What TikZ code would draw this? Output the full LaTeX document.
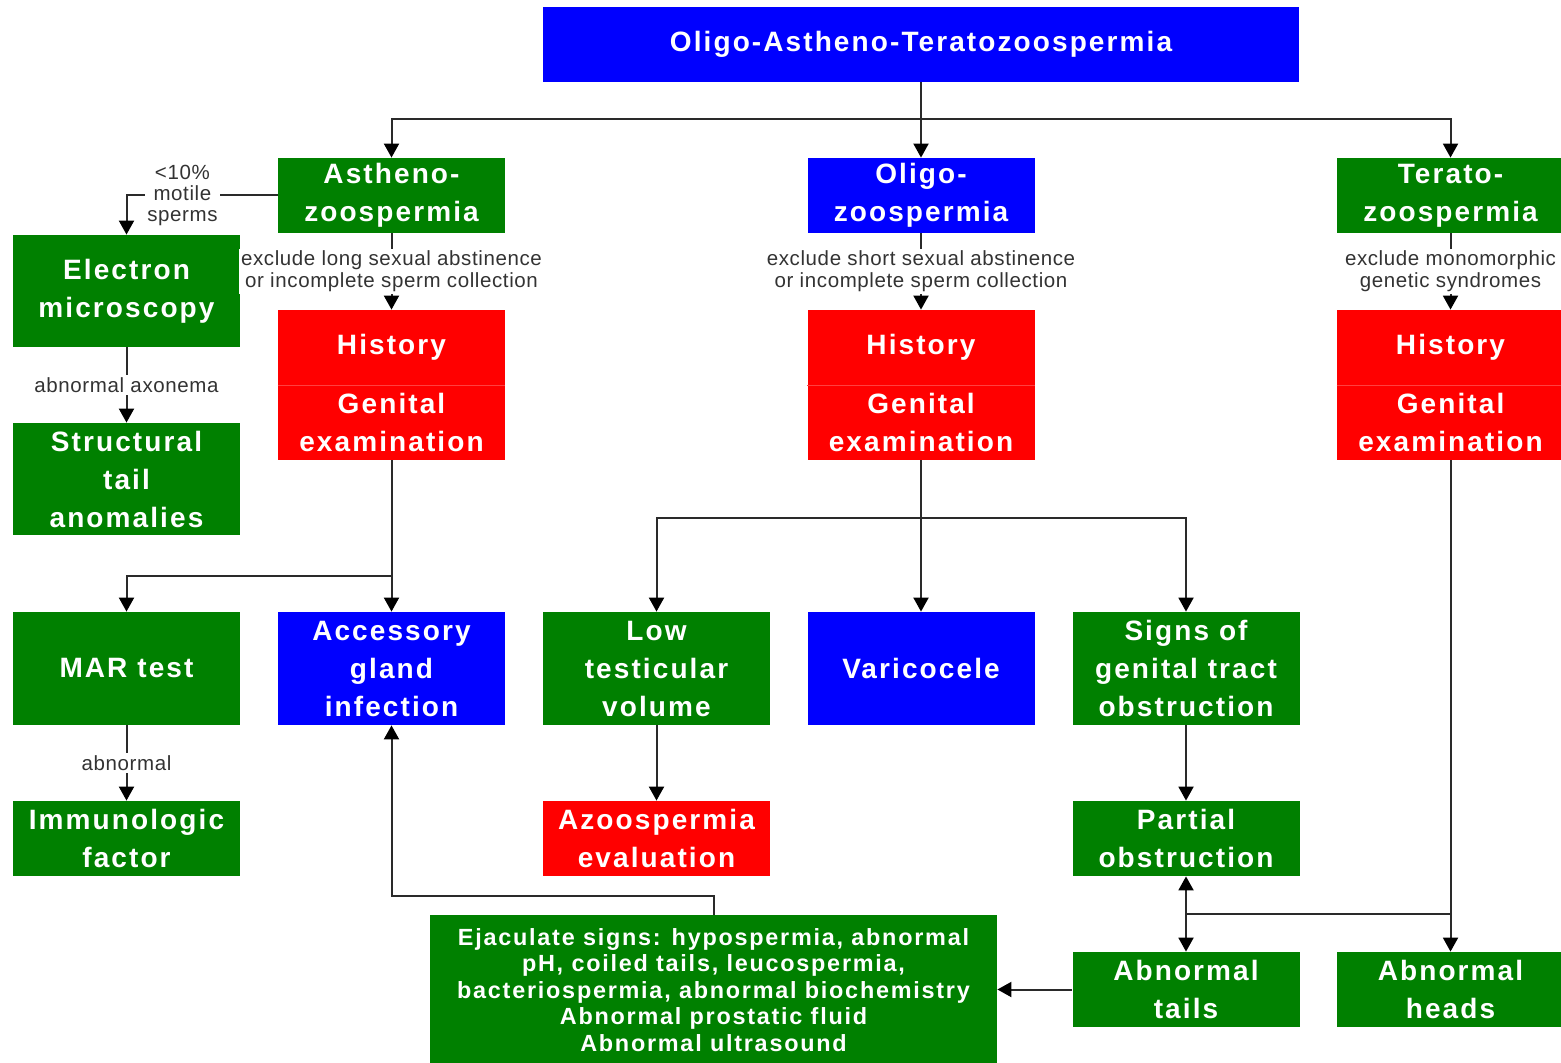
\documentclass[tikz,border=0pt]{standalone}
\usepackage{fontspec}
\setmainfont{Liberation Sans}
\newfontfamily\boxfont[LetterSpace=7.5]{Liberation Sans}
\newfontfamily\labfont[LetterSpace=3]{Liberation Sans}
\usetikzlibrary{arrows.meta}
\definecolor{bgreen}{HTML}{008000}
\definecolor{bblue}{HTML}{0000FF}
\definecolor{bred}{HTML}{FF0000}
\definecolor{wire}{HTML}{2A2A2A}
\definecolor{labgray}{HTML}{333333}
\tikzset{
  box/.style={text=white, align=center, inner sep=0pt,
    font=\boxfont\bfseries\fontsize{14}{19}\selectfont,
    minimum width=113.5pt, minimum height=37.5pt},
  tall/.style={minimum height=56.5pt},
  gbox/.style={box, fill=bgreen},
  bbox/.style={box, fill=bblue},
  rbox/.style={box, fill=bred},
  conn/.style={draw=wire, line width=1pt},
  arr/.style={conn, -{Triangle[length=7pt,width=7.5pt,color=black]}},
  lab/.style={fill=white, text=labgray, align=center, inner sep=1pt,
    font=\labfont\fontsize{10.25}{11}\selectfont},
  divider/.style={draw=white!25!bred, line width=0.6pt}
}
\begin{document}
\begin{tikzpicture}[x=0.5pt,y=-0.5pt]
\useasboundingbox (0,0) rectangle (1561,1063);

% top row
\node[bbox, minimum width=378pt] (top) at (921,44.5) {Oligo-Astheno-Teratozoospermia};
\node[gbox] (asth) at (391.5,195.5) {Astheno-\\zoospermia};
\node[bbox] (oligo) at (921,195.5) {Oligo-\\zoospermia};
\node[gbox] (terato) at (1450.5,195.5) {Terato-\\zoospermia};

% history / genital examination blocks
\node[rbox] (hist1) at (391.5,347.5) {History};
\node[rbox] (gen1) at (391.5,422.5) {Genital\\examination};
\node[rbox] (hist2) at (921,347.5) {History};
\node[rbox] (gen2) at (921,422.5) {Genital\\examination};
\node[rbox] (hist3) at (1450.5,347.5) {History};
\node[rbox] (gen3) at (1450.5,422.5) {Genital\\examination};
\draw[divider] (hist1.south west) -- (hist1.south east);
\draw[divider] (hist2.south west) -- (hist2.south east);
\draw[divider] (hist3.south west) -- (hist3.south east);

% left column
\node[gbox, minimum height=56pt] (elec) at (126.5,291) {Electron\\microscopy};
\node[gbox, minimum height=56pt] (struct) at (126.5,479) {Structural\\tail\\anomalies};

% middle row
\node[gbox, tall] (mar) at (126.5,668.5) {MAR test};
\node[bbox, tall] (acc) at (391.5,668.5) {Accessory\\gland\\infection};
\node[gbox, tall] (low) at (656.5,668.5) {Low\\testicular\\volume};
\node[bbox, tall] (var) at (921,668.5) {Varicocele};
\node[gbox, tall] (sig) at (1186,668.5) {Signs of\\genital tract\\obstruction};

% lower rows
\node[gbox] (immu) at (126.5,838.5) {Immunologic\\factor};
\node[rbox] (azo) at (656.5,838.5) {Azoospermia\\evaluation};
\node[gbox] (part) at (1186,838.5) {Partial\\obstruction};
\node[gbox] (tails) at (1186,989.5) {Abnormal\\tails};
\node[gbox] (heads) at (1450.5,989.5) {Abnormal\\heads};
\node[gbox, minimum width=283.5pt, minimum height=75pt,
  font=\boxfont\bfseries\fontsize{11.7}{13.25}\selectfont] (ejac) at (713.5,990)
  {Ejaculate signs: hypospermia, abnormal\\pH, coiled tails, leucospermia,\\bacteriospermia, abnormal biochemistry\\Abnormal prostatic fluid\\Abnormal ultrasound};

% junction points
\coordinate (b0) at (921,119);
\coordinate (b1) at (391.5,576);
\coordinate (b2) at (921,518);
\coordinate (b3) at (1450.5,914);
\coordinate (b4) at (1186,914);
\coordinate (b5) at (713.5,896);

% connectors from the top box
\draw[conn] (top.south) -- (b0);
\draw[arr] (b0) -| (asth.north);
\draw[arr] (b0) -- (oligo.north);
\draw[arr] (b0) -| (terato.north);

% asthenozoospermia branch
\draw[arr] (asth.west) -| (elec.north)
  node[lab, pos=0.315, font=\labfont\fontsize{10.25}{10.5}\selectfont] {<10\%\\motile\\sperms};
\draw[arr] (asth.south) -- (hist1.north)
  node[lab, midway] {exclude long sexual abstinence\\or incomplete sperm collection};
\draw[arr] (elec.south) -- (struct.north) node[lab, midway] {abnormal axonema};
\draw[conn] (gen1.south) -- (b1);
\draw[arr] (b1) -| (mar.north);
\draw[arr] (b1) -- (acc.north);
\draw[arr] (mar.south) -- (immu.north) node[lab, midway] {abnormal};

% oligozoospermia branch
\draw[arr] (oligo.south) -- (hist2.north)
  node[lab, midway] {exclude short sexual abstinence\\or incomplete sperm collection};
\draw[conn] (gen2.south) -- (b2);
\draw[arr] (b2) -| (low.north);
\draw[arr] (b2) -- (var.north);
\draw[arr] (b2) -| (sig.north);
\draw[arr] (low.south) -- (azo.north);
\draw[arr] (sig.south) -- (part.north);

% teratozoospermia branch
\draw[arr] (terato.south) -- (hist3.north)
  node[lab, midway] {exclude monomorphic\\genetic syndromes};
\draw[arr] (gen3.south) -- (heads.north);
\draw[conn] (b3) -- (b4);
\draw[arr] (b4) -- (part.south);
\draw[arr] (b4) -- (tails.north);

% ejaculate signs
\draw[arr] (tails.west) -- (tails.west -| ejac.east);
\draw[arr] (ejac.north) -- (b5) -| (acc.south);
\end{tikzpicture}
\end{document}
